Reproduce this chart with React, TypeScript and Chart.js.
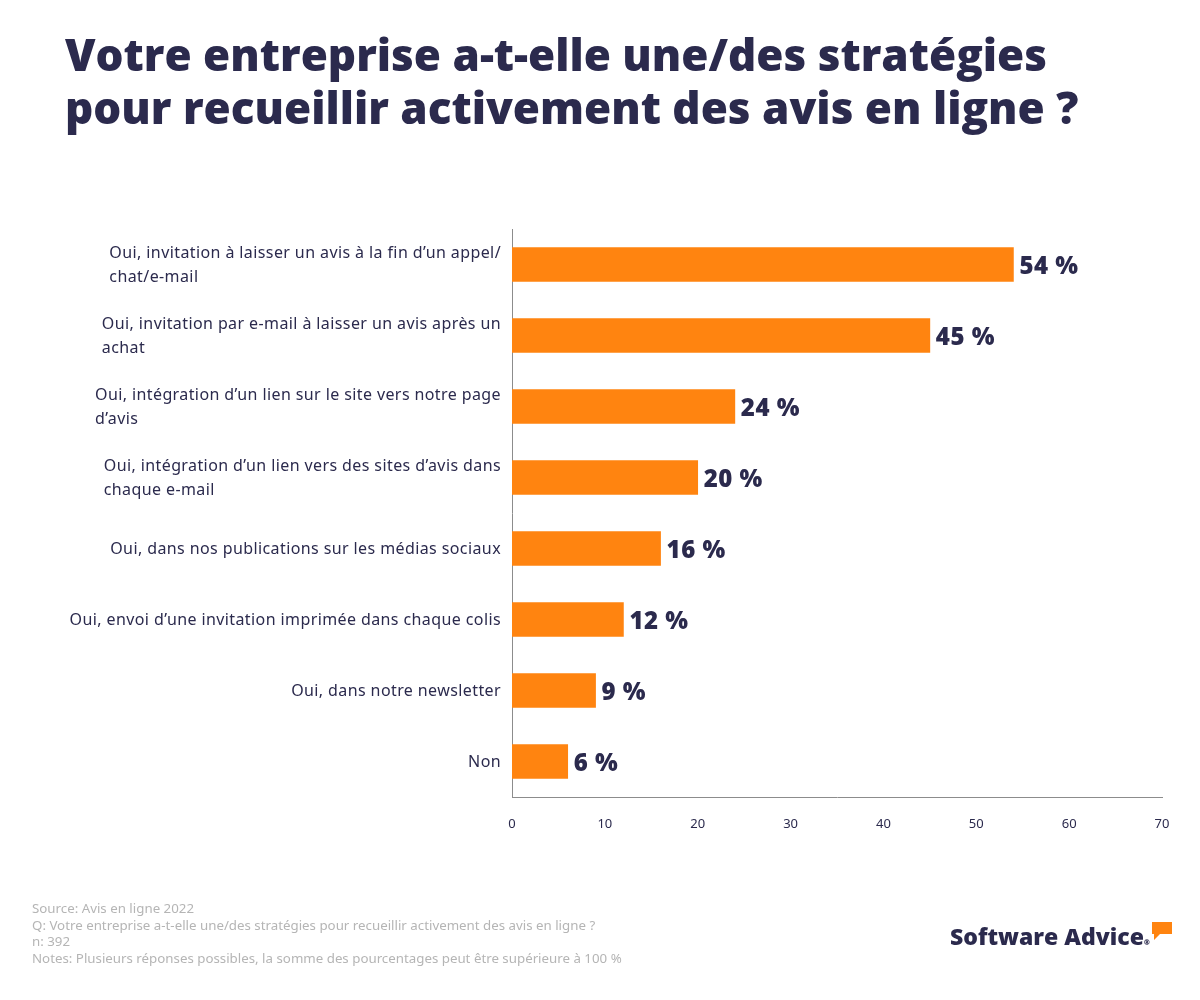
import React, { useEffect, useRef } from "react";
import { Chart, registerables } from "chart.js";

Chart.register(...registerables);

const categories: string[][] = [
  ["Oui, invitation à laisser un avis à la fin d’un appel/", "chat/e-mail"],
  ["Oui, invitation par e-mail à laisser un avis après un", "achat"],
  ["Oui, intégration d’un lien sur le site vers notre page", "d’avis"],
  ["Oui, intégration d’un lien vers des sites d’avis dans", "chaque e-mail"],
  ["Oui, dans nos publications sur les médias sociaux"],
  ["Oui, envoi d’une invitation imprimée dans chaque colis"],
  ["Oui, dans notre newsletter"],
  ["Non"],
];
const values: number[] = [54, 45, 24, 20, 16, 12, 9, 6];
const xTicks: number[] = [0, 10, 20, 30, 40, 50, 60, 70];

const titleLines = [
  "Votre entreprise a-t-elle une/des stratégies",
  "pour recueillir activement des avis en ligne ?",
];
const footerLines = [
  "Source: Avis en ligne 2022",
  "Q: Votre entreprise a-t-elle une/des stratégies pour recueillir activement des avis en ligne ?",
  "n: 392",
  "Notes: Plusieurs réponses possibles, la somme des pourcentages peut être supérieure à 100 %",
];

const NAVY = "#2b2a4d";
const ORANGE = "#ff8410";
const FONT = "'Noto Sans', Lato, sans-serif";
const HEAVY = "'Open Sans', 'Noto Sans', sans-serif";

export default function App() {
  const ref = useRef<HTMLCanvasElement | null>(null);

  useEffect(() => {
    document.body.style.margin = "0";
    const canvas = ref.current!;
    const labelPlugin = {
      id: "customLabels",
      afterDraw(chart: any) {
        const ctx = chart.ctx;
        const yScale = chart.scales.y;
        const meta = chart.getDatasetMeta(0);
        ctx.save();
        // category labels: block right-aligned, lines left-aligned
        ctx.font = `16px ${FONT}`;
        (ctx as any).letterSpacing = "0.4px";
        ctx.fillStyle = NAVY;
        ctx.textBaseline = "middle";
        ctx.textAlign = "left";
        const rightEdge = yScale.right - 11;
        const lh = 24;
        categories.forEach((lines, i) => {
          const cy = yScale.getPixelForTick(i) + 1;
          const w = Math.max(...lines.map((l) => ctx.measureText(l).width));
          const x0 = rightEdge - w;
          const startY = cy - ((lines.length - 1) * lh) / 2;
          lines.forEach((l, j) => ctx.fillText(l, x0, startY + j * lh));
        });
        // value labels
        ctx.font = `800 24px ${HEAVY}`;
        (ctx as any).letterSpacing = "0.5px";
        ctx.fillStyle = NAVY;
        meta.data.forEach((bar: any, i: number) => {
          ctx.fillText(`${values[i]} %`, bar.x + 6, bar.y + 3);
        });
        ctx.restore();
      },
    };

    const chart = new Chart(canvas, {
      type: "bar",
      data: {
        labels: categories.map((c) => c.join(" ")),
        datasets: [
          {
            data: values,
            backgroundColor: ORANGE,
            barThickness: 34,
          },
        ],
      },
      options: {
        indexAxis: "y",
        animation: false,
        responsive: false,
        maintainAspectRatio: false,
        layout: { padding: { top: 229, right: 38, left: 0, bottom: 0 } },
        plugins: {
          legend: { display: false },
          tooltip: { enabled: false },
          title: { display: false },
        },
        scales: {
          x: {
            min: 0,
            max: 70,
            afterBuildTicks(scale: any) {
              scale.ticks = xTicks.map((v) => ({ value: v }));
            },
            afterFit(scale: any) {
              scale.height = 203;
            },
            grid: { display: false },
            border: { display: true, color: "#8c8c8c", width: 1 },
            ticks: {
              color: NAVY,
              font: { family: FONT, size: 13 },
              padding: 11,
              maxRotation: 0,
            },
          },
          y: {
            afterFit(scale: any) {
              scale.width = 512;
            },
            grid: { display: false },
            border: { display: true, color: "#8c8c8c", width: 1 },
            ticks: { display: false },
          },
        },
      },
      plugins: [labelPlugin],
    });
    return () => chart.destroy();
  }, []);

  return (
    <div style={{ position: "relative", width: 1200, height: 1000, background: "#fff", overflow: "hidden" }}>
      <canvas ref={ref} width={1200} height={1000} style={{ position: "absolute", left: 0, top: 0 }} />
      <div
        style={{
          position: "absolute",
          left: 65,
          top: 28,
          fontFamily: HEAVY,
          fontWeight: 800,
          fontSize: 44,
          lineHeight: "53px",
          color: NAVY,
          whiteSpace: "nowrap",
        }}
      >
        {titleLines.map((t, i) => (
          <div key={i}>{t}</div>
        ))}
      </div>
      <div
        style={{
          position: "absolute",
          left: 32,
          top: 900,
          fontFamily: FONT,
          fontSize: 13.3,
          lineHeight: "16.7px",
          color: "#b5b5b5",
          whiteSpace: "nowrap",
        }}
      >
        {footerLines.map((t, i) => (
          <div key={i}>{t}</div>
        ))}
      </div>
      <div
        style={{
          position: "absolute",
          left: 950,
          top: 920,
          fontFamily: HEAVY,
          fontWeight: 800,
          fontSize: 23,
          lineHeight: "32px",
          color: NAVY,
          whiteSpace: "nowrap",
        }}
      >
        Software Advice
        <span style={{ fontSize: 7, verticalAlign: "baseline" }}>®</span>
      </div>
      <svg style={{ position: "absolute", left: 1151, top: 921 }} width={22} height={22} viewBox="0 0 22 22">
        <path d="M1 1 H21 V13 H9 L3 19 V13 H1 Z" fill={ORANGE} />
      </svg>
    </div>
  );
}
